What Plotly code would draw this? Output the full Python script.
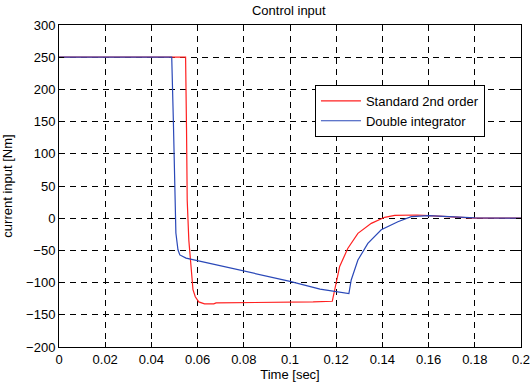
import plotly.graph_objects as go

# Standard 2nd order (red)
t_std = [0, 0.0548, 0.0552, 0.0555, 0.0562, 0.058, 0.059, 0.0605, 0.063, 0.067,
         0.068, 0.09, 0.11, 0.1183, 0.1193, 0.1215, 0.125, 0.1294, 0.1352, 0.141,
         0.1453, 0.15, 0.155, 0.16, 0.165, 0.17, 0.175, 0.18, 0.2]
u_std = [250, 250, 140, 28, -34, -111, -122, -130, -133, -133,
         -131.5, -131, -130, -129, -111, -75, -47, -23.5, -8, 1.4,
         4.5, 5, 5, 4, 3, 2, 0, 0, 0]

# Double integrator (blue)
t_dbl = [0, 0.0488, 0.0495, 0.0501, 0.0506, 0.0515, 0.0523, 0.055, 0.06, 0.078,
         0.1, 0.113, 0.1255, 0.1265, 0.1294, 0.1337, 0.1395, 0.1467, 0.1525, 0.16,
         0.17, 0.18, 0.2]
u_dbl = [250, 250, 152, 38, -23, -49, -57, -62, -66, -80,
         -98, -110, -117, -96, -65, -39, -18, -5.4, 2.4, 4,
         2.4, 0.5, 0]

x_ticks = [0, 0.02, 0.04, 0.06, 0.08, 0.1, 0.12, 0.14, 0.16, 0.18, 0.2]
x_tick_text = ["0", "0.02", "0.04", "0.06", "0.08", "0.1", "0.12", "0.14", "0.16", "0.18", "0.2"]
y_ticks = [-200, -150, -100, -50, 0, 50, 100, 150, 200, 250, 300]

FONT = "Liberation Sans, Arial, sans-serif"
FS = 13

fig = go.Figure()
fig.add_trace(go.Scatter(x=t_std, y=u_std, mode="lines", name="Standard 2nd order",
                         line=dict(color="#ff2020", width=1.2)))
fig.add_trace(go.Scatter(x=t_dbl, y=u_dbl, mode="lines", name="Double integrator",
                         line=dict(color="#2a48b8", width=1.2)))

axis_common = dict(
    showline=True, linecolor="black", linewidth=1, mirror="ticks",
    ticks="inside", ticklen=5, tickcolor="black",
    showgrid=True, gridcolor="black", gridwidth=1, griddash="6px,5px",
    zeroline=False, automargin=False, ticklabeloverflow="allow",
    tickfont=dict(family=FONT, size=FS, color="black"),
)

fig.update_xaxes(range=[0, 0.2], tickvals=x_ticks, ticktext=x_tick_text,
                 title=dict(text="Time [sec]", font=dict(family=FONT, size=FS, color="black"), standoff=0),
                 **axis_common)
fig.update_yaxes(range=[-200, 300], tickvals=y_ticks,
                 title=dict(text="current input [Nm]", font=dict(family=FONT, size=FS, color="black"), standoff=10),
                 **axis_common)

fig.update_layout(
    width=530, height=384,
    margin=dict(l=59, r=9, t=25, b=37),
    paper_bgcolor="white", plot_bgcolor="white",
    title=dict(text="Control input", x=0.545, xanchor="center", y=0.985, yanchor="top",
               font=dict(family=FONT, size=FS, color="black")),
    font=dict(family=FONT, size=FS, color="black"),
    showlegend=True,
    legend=dict(x=0.554, y=0.814, xanchor="left", yanchor="top",
                bgcolor="white", bordercolor="black", borderwidth=1,
                font=dict(family=FONT, size=FS, color="black"),
                tracegroupgap=0, itemwidth=40),
)

fig.write_html("out.html", config={"displayModeBar": False},
               post_script="document.body.style.margin='0';")
